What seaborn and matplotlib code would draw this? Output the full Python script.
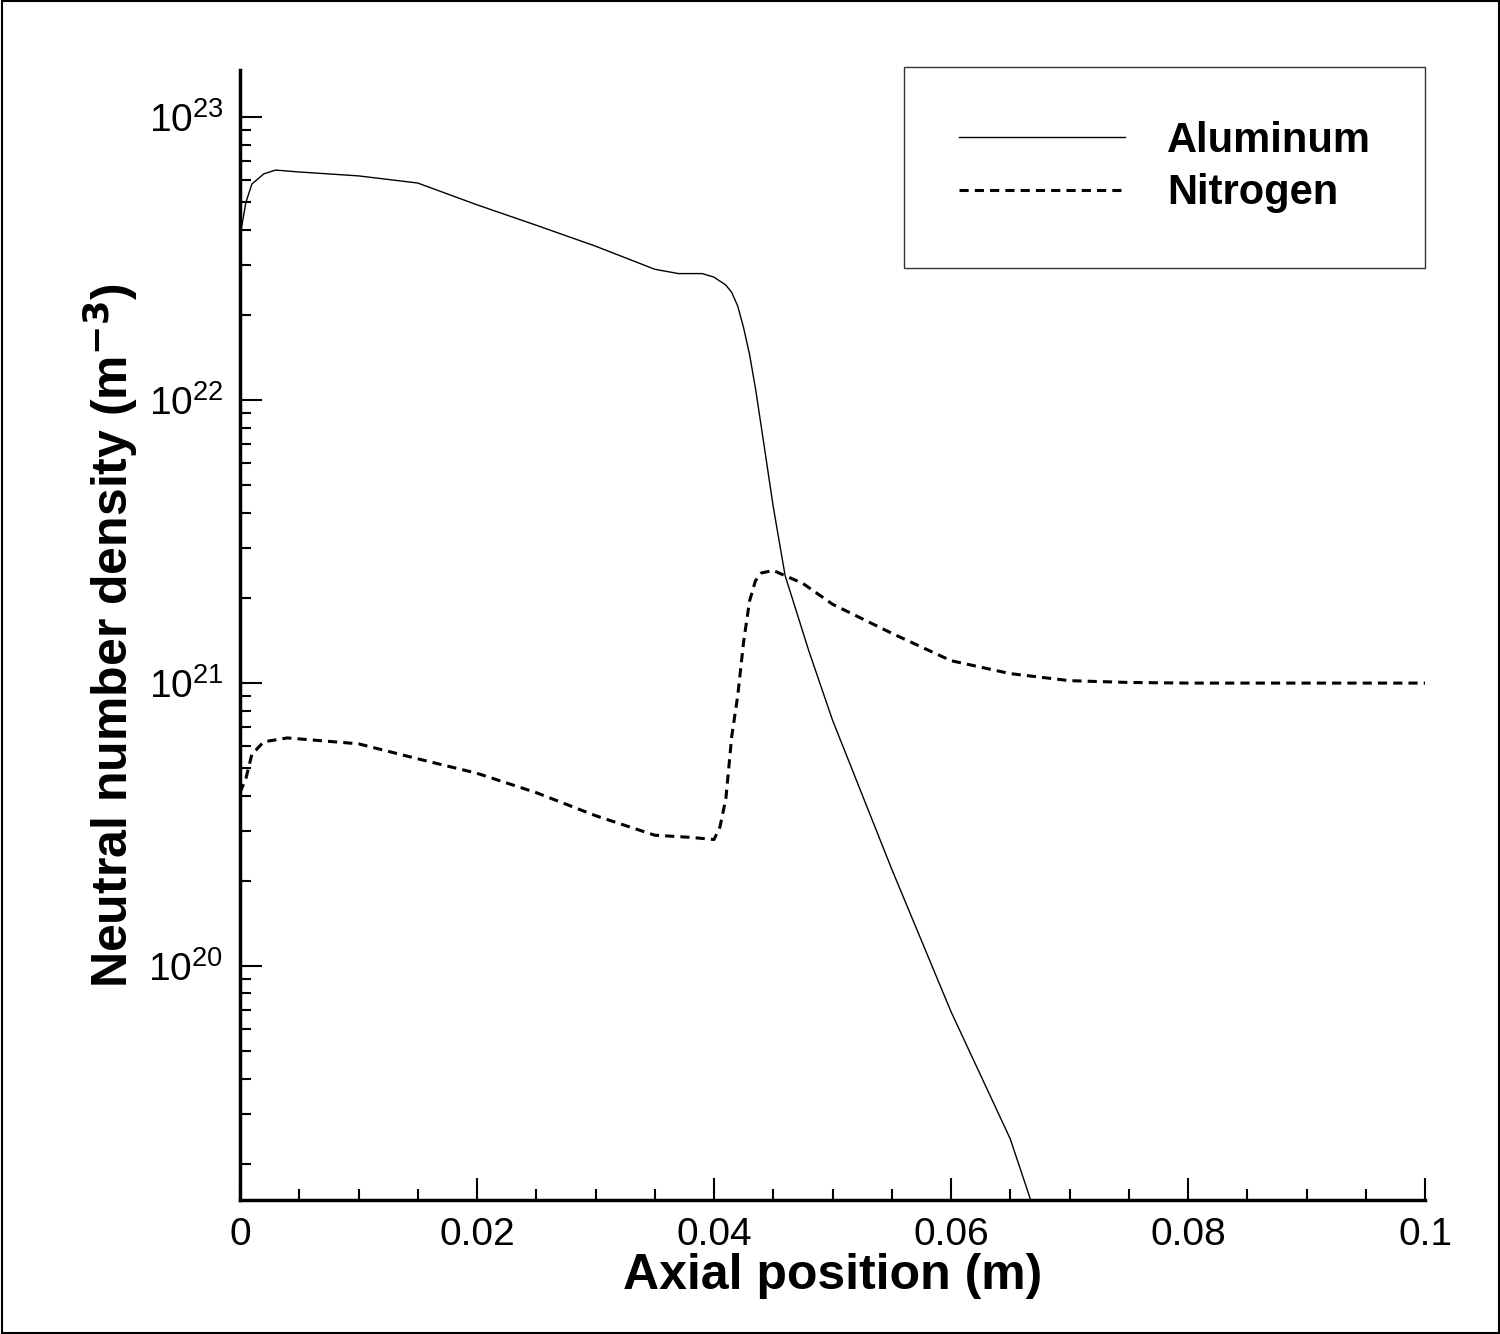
import matplotlib
matplotlib.use("Agg")
import matplotlib.pyplot as plt
import seaborn as sns
import pandas as pd
import numpy as np
from matplotlib.ticker import LogLocator, MultipleLocator, FixedLocator

plt.rcParams["font.family"] = "Liberation Sans"

al_x = [0.0, 0.0005, 0.001, 0.002, 0.003, 0.005, 0.01, 0.015, 0.02, 0.025, 0.03, 0.035, 0.037, 0.039, 0.04, 0.041, 0.0415, 0.042, 0.0425, 0.043, 0.0435, 0.044, 0.045, 0.046, 0.048, 0.05, 0.055, 0.06, 0.065, 0.0667]
al_y = [3.8e22, 5.0e22, 5.8e22, 6.3e22, 6.5e22, 6.4e22, 6.2e22, 5.85e22, 4.9e22, 4.15e22, 3.5e22, 2.9e22, 2.8e22, 2.8e22, 2.72e22, 2.55e22, 2.4e22, 2.15e22, 1.8e22, 1.45e22, 1.1e22, 8.0e21, 4.2e21, 2.4e21, 1.3e21, 7.4e20, 2.2e20, 6.9e19, 2.45e19, 1.5e19]
n_x = [0.0, 0.0005, 0.001, 0.002, 0.004, 0.01, 0.015, 0.02, 0.025, 0.03, 0.035, 0.038, 0.04, 0.0405, 0.041, 0.0415, 0.042, 0.0425, 0.043, 0.0435, 0.044, 0.045, 0.0475, 0.05, 0.055, 0.06, 0.065, 0.07, 0.075, 0.08, 0.09, 0.1]
n_y = [4.1e20, 4.6e20, 5.6e20, 6.2e20, 6.4e20, 6.1e20, 5.4e20, 4.8e20, 4.1e20, 3.4e20, 2.9e20, 2.85e20, 2.8e20, 3.1e20, 3.9e20, 6.5e20, 9.0e20, 1.4e21, 1.95e21, 2.3e21, 2.45e21, 2.5e21, 2.25e21, 1.9e21, 1.5e21, 1.2e21, 1.08e21, 1.02e21, 1.005e21, 1.0e21, 1.0e21, 1.0e21]

df = pd.concat([
    pd.DataFrame({"x": al_x, "y": al_y, "s": "Aluminum"}),
    pd.DataFrame({"x": n_x, "y": n_y, "s": "Nitrogen"}),
])

fig = plt.figure(figsize=(15, 13.34), dpi=100)
ax = fig.add_axes([0.16, 0.1004, 0.79, 0.847])
sns.lineplot(data=df, x="x", y="y", hue="s", style="s",
             palette={"Aluminum": "black", "Nitrogen": "black"},
             dashes={"Aluminum": "", "Nitrogen": (3, 2)},
             ax=ax, sort=False, estimator=None, legend=True)
for l, lw in zip(ax.get_lines(), [1.0, 2.2]):
    l.set_linewidth(lw)
ax.set_yscale("log")
ax.set_xlim(0, 0.1)
ax.set_ylim(10**19.173, 10**23.166)
ax.xaxis.set_major_locator(FixedLocator([0, 0.02, 0.04, 0.06, 0.08, 0.1]))
ax.set_xticklabels(["0", "0.02", "0.04", "0.06", "0.08", "0.1"])
ax.xaxis.set_minor_locator(MultipleLocator(0.005))
ax.yaxis.set_major_locator(LogLocator(base=10, numticks=10))
ax.yaxis.set_minor_locator(LogLocator(base=10, subs=np.arange(2, 10), numticks=20))
ax.tick_params(which="both", direction="in", labelsize=28, width=1.5)
ax.tick_params(which="major", length=16, pad=12)
ax.tick_params(which="minor", length=8)
for s in ["top", "right"]:
    ax.spines[s].set_visible(False)
for s in ["left", "bottom"]:
    ax.spines[s].set_linewidth(2.5)
ax.set_xlabel("Axial position (m)", fontsize=36, fontweight="bold", labelpad=0)
ax.set_ylabel("Neutral number density (m$^{\\mathbf{-3}}$)", fontsize=36, fontweight="bold", labelpad=6)

h, lab = ax.get_legend_handles_labels()
for hh, lw in zip(h, [1.0, 2.2]):
    hh.set_linewidth(lw)
leg = ax.legend(h, lab, loc="upper right", bbox_to_anchor=(1.0, 1.003),
                prop={"weight": "bold", "size": 30}, handlelength=4.0, frameon=True,
                fancybox=False, edgecolor="black", borderpad=1.3, handletextpad=1.0,
                labelspacing=0.3, borderaxespad=0)
leg.get_frame().set_linewidth(1.0)

fig.patches.append(plt.Rectangle((0.001, 0.001), 0.998, 0.998, transform=fig.transFigure,
                                 fill=False, edgecolor="black", linewidth=1.5))
fig.savefig("out.png", dpi=100)
